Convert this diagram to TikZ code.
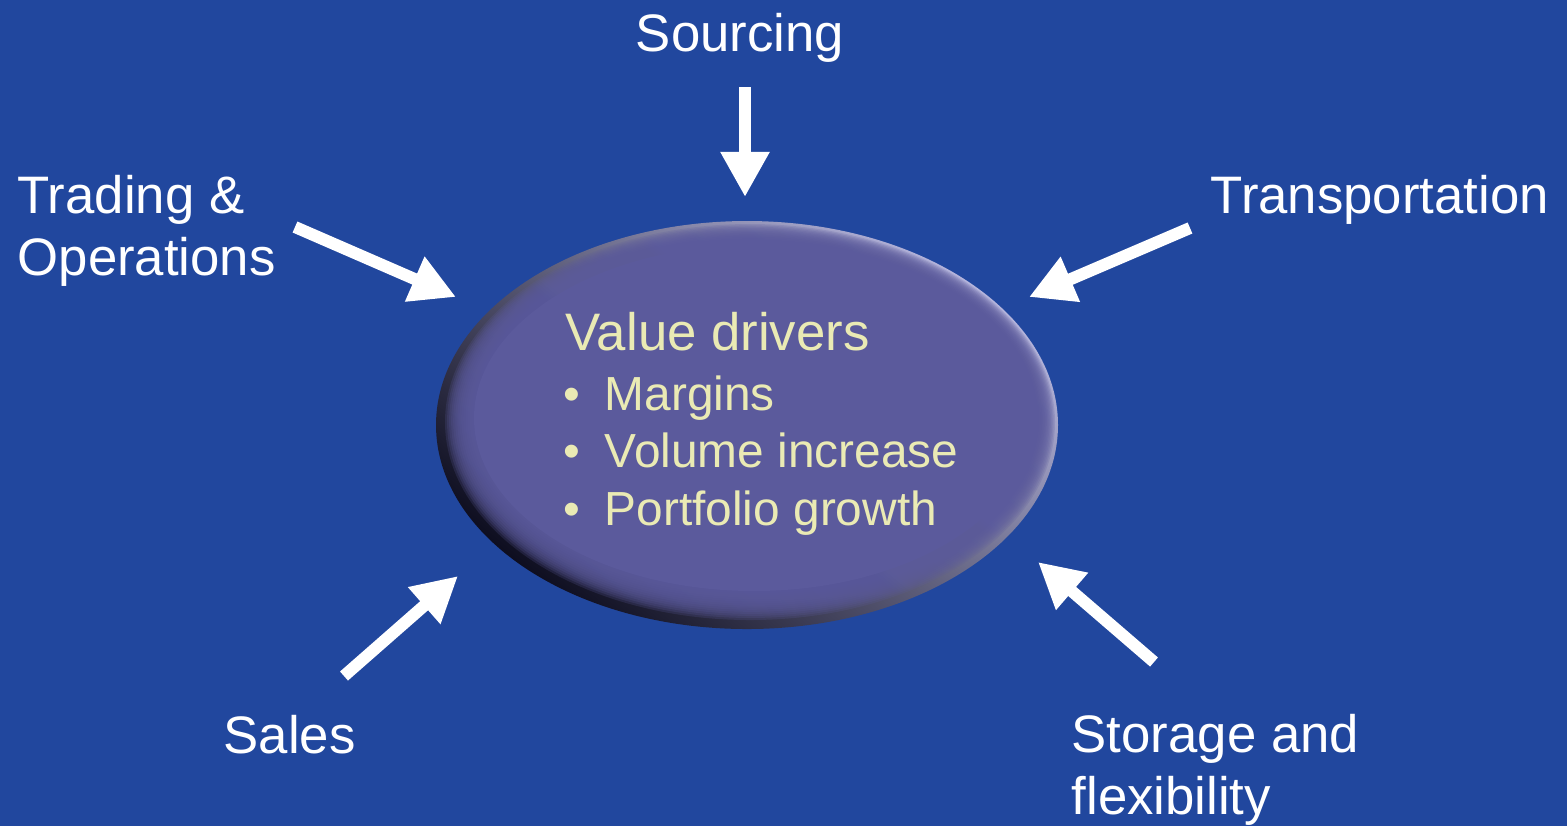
\documentclass[tikz,border=0pt]{standalone}
\usepackage{fontspec}
\setmainfont{Liberation Sans}
\usetikzlibrary{arrows.meta}
\definecolor{bg}{RGB}{33,71,158}
\definecolor{ellfill}{RGB}{91,90,156}
\definecolor{edgedark}{RGB}{14,14,32}
\definecolor{edgelight}{RGB}{180,180,220}
\definecolor{vtext}{RGB}{234,234,180}
\begin{document}
\begin{tikzpicture}[x=0.01cm,y=-0.01cm,
  lbl/.style={text=white, inner sep=0pt, anchor=base west, font=\fontsize{15}{18}\selectfont},
  inl/.style={text=vtext, inner sep=0pt, anchor=base west, font=\fontsize{15}{18}\selectfont},
  bul/.style={inl, font=\fontsize{13.6}{16}\selectfont},
  bigarrow/.style={draw=white, line width=0.12cm, -{Triangle[length=4.5mm 0 1, width=4.6mm 0 1]}}
]
\fill[bg] (0,0) rectangle (1567,826);
\useasboundingbox (0,0) rectangle (1567,826);

% bevelled ellipse
\shade[shading=axis, top color=edgelight, bottom color=edgedark, shading angle=-40]
  (747,425) ellipse [x radius=311, y radius=204];
\foreach \i in {0,...,13} {
  \fill[ellfill, opacity=0.22] ({750+0.35*\i},{422-0.35*\i}) ellipse [x radius={305-1.7*\i}, y radius={198-1.7*\i}];
}
\fill[ellfill] (754,418) ellipse [x radius=280, y radius=173];
\coordinate (core) at (747,425);

% labels
\node[lbl, anchor=base] (sourcing) at (740,51) {Sourcing};
\node[lbl] (trading) at (17,213) {Trading \&};
\node[lbl] (operations) at (17,275) {Operations};
\node[lbl] (transport) at (1210,213) {Transportation};
\node[lbl] (sales) at (223,753) {Sales};
\node[lbl] (storage) at (1071,752) {Storage and};
\node[lbl] (flex) at (1071,814) {flexibility};

% inner text
\node[inl] (title) at (565,350) {Value drivers};
\node[bul] (b1) at (563,410) {\makebox[0.41cm][l]{•}Margins};
\node[bul] (b2) at (563,467) {\makebox[0.41cm][l]{•}Volume increase};
\node[bul] (b3) at (563,525) {\makebox[0.41cm][l]{•}Portfolio growth};

% arrow end points
\coordinate (srcA) at (745,87);   \coordinate (srcB) at (745,197);
\coordinate (trdA) at (295,227);  \coordinate (trdB) at (456,297);
\coordinate (trnA) at (1190,228); \coordinate (trnB) at (1029,297);
\coordinate (salA) at (344,676);  \coordinate (salB) at (458,576);
\coordinate (stoA) at (1154,662); \coordinate (stoB) at (1038,562);

\draw[bigarrow] (srcA) -- (srcB);
\draw[bigarrow] (trdA) -- (trdB);
\draw[bigarrow] (trnA) -- (trnB);
\draw[bigarrow] (salA) -- (salB);
\draw[bigarrow] (stoA) -- (stoB);
\end{tikzpicture}
\end{document}
